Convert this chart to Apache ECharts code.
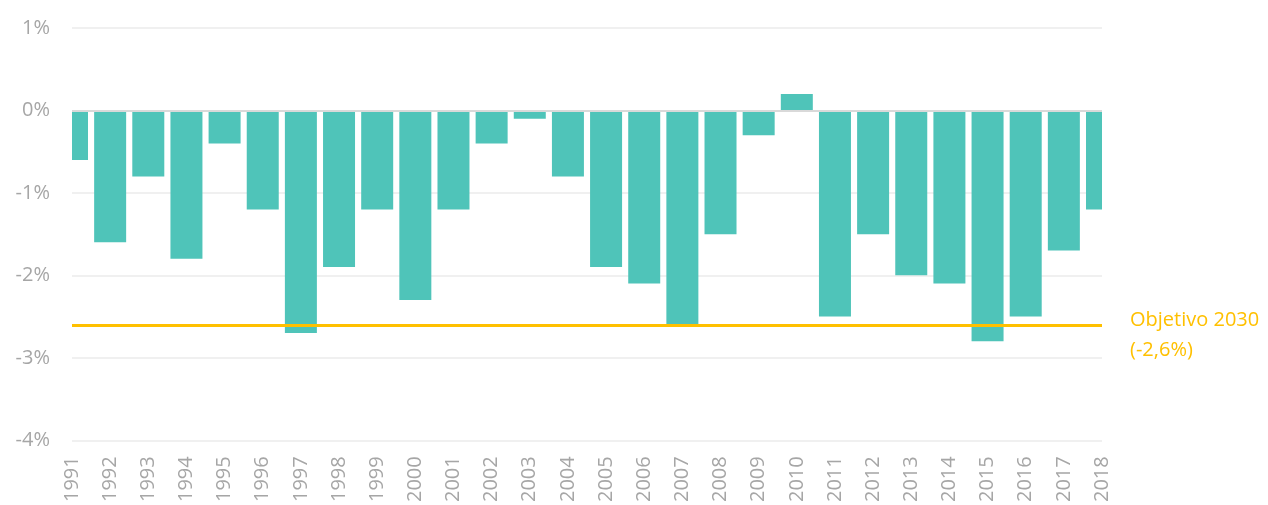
<!DOCTYPE html>
<html>
<head>
<meta charset="utf-8">
<script src="https://cdn.jsdelivr.net/npm/echarts@6/dist/echarts.min.js"></script>
<style>
  html, body { margin: 0; padding: 0; background: #fff; }
  #chart { width: 1268px; height: 505px; }
</style>
</head>
<body>
<div id="chart"></div>
<script>
const years = ["1991", "1992", "1993", "1994", "1995", "1996", "1997", "1998", "1999", "2000",
  "2001", "2002", "2003", "2004", "2005", "2006", "2007", "2008", "2009", "2010",
  "2011", "2012", "2013", "2014", "2015", "2016", "2017", "2018"];
const changes = [-0.6, -1.6, -0.8, -1.8, -0.4, -1.2, -2.7, -1.9, -1.2, -2.3,
  -1.2, -0.4, -0.1, -0.8, -1.9, -2.1, -2.6, -1.5, -0.3, 0.2,
  -2.5, -1.5, -2.0, -2.1, -2.8, -2.5, -1.7, -1.2];
const target = -2.6;
const targetLines = ["Objetivo 2030", "(-2,6%)"];

const font = "'Open Sans', 'Liberation Sans', sans-serif";
const W = 1268;
const grid = { top: 28, bottom: 64, left: 72, right: 166 };

const chart = echarts.init(document.getElementById("chart"), null, { renderer: "canvas" });
chart.setOption({
  animation: false,
  grid,
  // bars on the first/last tick are cut at the plot edge, like the original
  graphic: [
    { type: "rect", z: 100, shape: { x: grid.left - 20, y: grid.top - 10, width: 20, height: 430 }, style: { fill: "#fff" } },
    { type: "rect", z: 100, shape: { x: W - grid.right, y: grid.top - 10, width: 22, height: 300 }, style: { fill: "#fff" } },
  ],
  xAxis: {
    type: "category",
    data: years,
    boundaryGap: false,
    axisLine: { onZero: true, lineStyle: { color: "#d9d9d9", width: 2 } },
    axisTick: { show: false },
    axisLabel: {
      rotate: 90,
      color: "#a6a6a6",
      fontSize: 20,
      fontFamily: font,
      margin: 16,
      interval: 0,
    },
    z: 5,
  },
  yAxis: {
    type: "value",
    min: -4,
    max: 1,
    interval: 1,
    axisLine: { show: false },
    axisTick: { show: false },
    axisLabel: {
      color: "#a6a6a6",
      fontSize: 20,
      fontFamily: font,
      margin: 22,
      formatter: (v) => v + "%",
    },
    splitLine: { lineStyle: { color: "#f0f0f0", width: 2 } },
  },
  series: [{
    type: "bar",
    data: changes,
    barWidth: 32,
    itemStyle: { color: "#4fc4b9" },
    markLine: {
      silent: true,
      symbol: "none",
      lineStyle: { color: "#ffc000", width: 3, type: "solid" },
      label: {
        position: "end",
        formatter: "{gap|}\n" + targetLines.map((t) => "{t|" + t + "}").join("\n"),
        distance: 28,
        align: "left",
        rich: {
          gap: { height: 20, lineHeight: 20, fontSize: 10 },
          t: { color: "#ffc000", fontSize: 20, fontFamily: font, lineHeight: 30 },
        },
      },
      data: [{ yAxis: target }],
    },
  }],
});
</script>
</body>
</html>
